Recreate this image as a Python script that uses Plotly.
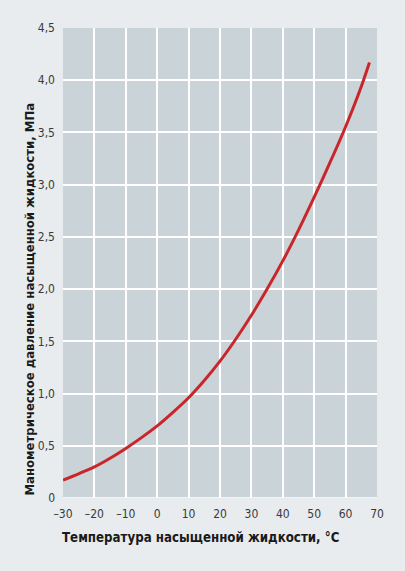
import plotly.graph_objects as go

# Data
temps = [-30, -25, -20, -15, -10, -5, 0, 5, 10, 15, 20, 25, 30, 35, 40, 45, 50, 55, 60, 65, 67.6]
pressure = [0.172, 0.232, 0.298, 0.381, 0.475, 0.578, 0.69, 0.82, 0.96, 1.125, 1.31, 1.52, 1.75, 2.00,
            2.27, 2.565, 2.88, 3.21, 3.555, 3.94, 4.17]

x_ticks = [-30, -20, -10, 0, 10, 20, 30, 40, 50, 60, 70]
x_labels = ["–30", "–20", "–10", "0", "10", "20", "30", "40", "50", "60", "70"]
y_ticks = [0, 0.5, 1.0, 1.5, 2.0, 2.5, 3.0, 3.5, 4.0, 4.5]
y_labels = ["0", "0,5", "1,0", "1,5", "2,0", "2,5", "3,0", "3,5", "4,0", "4,5"]

x_title = "Температура насыщенной жидкости, °C"
y_title = "Манометрическое давление насыщенной жидкости, МПа"

fig = go.Figure()
fig.add_trace(go.Scatter(
    x=temps, y=pressure, mode="lines",
    line=dict(color="#c8262b", width=3, shape="spline", smoothing=0.8),
    hoverinfo="skip", showlegend=False,
))

tick_font = dict(family="DejaVu Sans Condensed, sans-serif", size=12, color="#3a3a3a")
fig.update_layout(
    width=405, height=571,
    margin=dict(l=63, r=28, t=28, b=73),
    paper_bgcolor="#e8ecef",
    plot_bgcolor="#c9d3d8",
    xaxis=dict(range=[-30, 70], tickvals=x_ticks, ticktext=x_labels,
               showgrid=True, gridcolor="white", gridwidth=1.5,
               zeroline=False, showline=False, ticks="", tickfont=tick_font,
               ticklabelstandoff=7, fixedrange=True),
    yaxis=dict(range=[0, 4.5], tickvals=y_ticks, ticktext=y_labels,
               showgrid=True, gridcolor="white", gridwidth=1.5,
               zeroline=False, showline=False, ticks="", tickfont=tick_font,
               ticklabelstandoff=7, fixedrange=True),
    annotations=[
        dict(text="<b>" + x_title + "</b>", xref="paper", yref="paper",
             x=-0.01, y=-0.064, xanchor="left", yanchor="top", showarrow=False,
             font=dict(family="DejaVu Sans Condensed, sans-serif", size=13.2, color="#1a1a1a")),
        dict(text="<b>" + y_title + "</b>", xref="paper", yref="paper",
             x=-0.108, y=0.0, xanchor="center", yanchor="bottom", textangle=-90, showarrow=False,
             font=dict(family="DejaVu Sans Condensed, sans-serif", size=13, color="#1a1a1a")),
    ],
)
fig.add_shape(type="line", xref="x", yref="y", x0=-30, x1=70, y0=0, y1=0,
              line=dict(color="white", width=1.5), layer="below")

fig.write_html("out.html")
